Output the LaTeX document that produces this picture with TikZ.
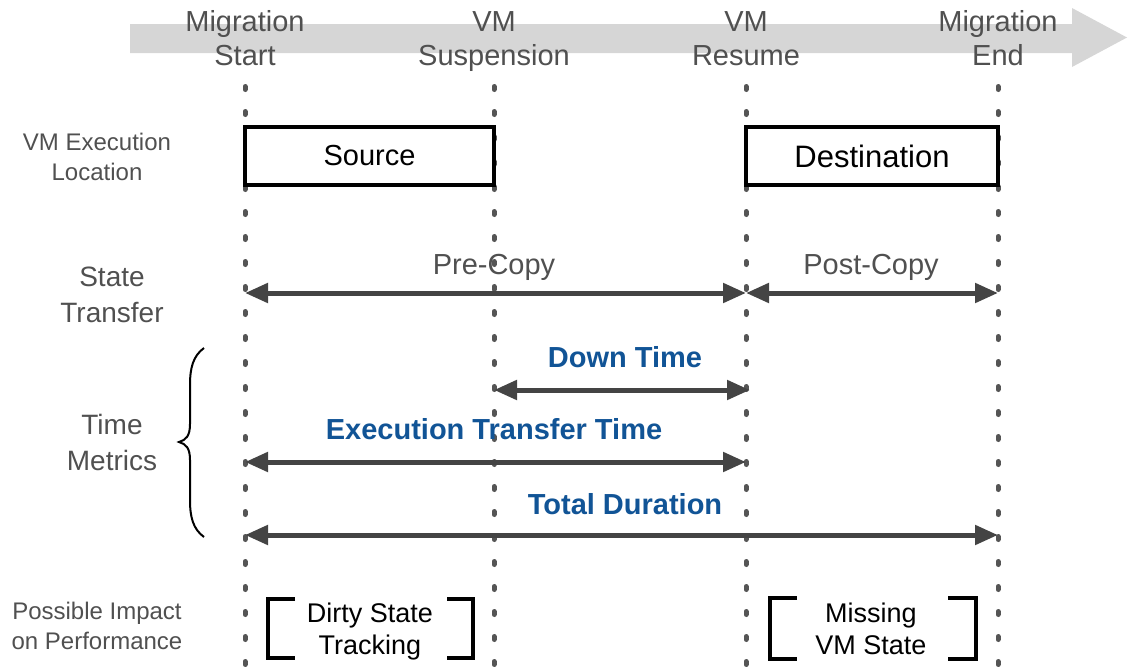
\documentclass[tikz,border=0pt]{standalone}
\usepackage{fontspec}
\setmainfont{Liberation Sans}
\usetikzlibrary{arrows.meta}
\definecolor{txtgray}{HTML}{505050}
\definecolor{arrgray}{HTML}{444444}
\definecolor{dotgray}{HTML}{555555}
\definecolor{bandgray}{HTML}{D6D6D6}
\definecolor{metricblue}{HTML}{115496}
\tikzset{
  toplabel/.style={align=center, text=txtgray, font=\fontsize{29}{34}\selectfont, inner sep=0pt},
  rowlabel/.style={align=center, text=txtgray, font=\fontsize{28}{36}\selectfont, inner sep=0pt},
  smalllabel/.style={align=center, text=txtgray, font=\fontsize{24}{30}\selectfont, inner sep=0pt},
  phaselabel/.style={text=txtgray, font=\fontsize{29}{34}\selectfont, inner sep=0pt},
  metriclabel/.style={text=metricblue, font=\fontsize{29}{34}\selectfont\bfseries, inner sep=0pt},
  locbox/.style={draw=black, line width=3.5pt, fill=white},
  boxtext/.style={text=black, inner sep=0pt},
  impacttext/.style={align=center, text=black, font=\fontsize{27}{32}\selectfont, inner sep=0pt},
  timeline/.style={draw=dotgray, line width=5pt, line cap=round, dash pattern=on 3pt off 22pt},
  span/.style={draw=arrgray, line width=5pt, {Triangle[length=23pt,width=19pt]}-{Triangle[length=23pt,width=19pt]}},
  bracket/.style={draw=black, line width=4pt},
}
\begin{document}
\begin{tikzpicture}[x=1pt,y=-1pt]
\useasboundingbox (0,0) rectangle (1128,667);
% big gray timeline arrow
\fill[bandgray] (130,24) -- (1072,24) -- (1072,8) -- (1127,37.5) -- (1072,67) -- (1072,53) -- (130,53) -- cycle;
% event labels
\node[toplabel] (ms) at (245,41.5) {\strut Migration\\\strut Start};
\node[toplabel] (vs) at (494,41.5) {\strut VM\\\strut Suspension};
\node[toplabel] (vr) at (746,41.5) {\strut VM\\\strut Resume};
\node[toplabel] (me) at (998,41.5) {\strut Migration\\\strut End};
% timeline coordinates
\coordinate (t1) at (245,86.5); \coordinate (b1) at (245,667);
\coordinate (t2) at (494,86.5); \coordinate (b2) at (494,667);
\coordinate (t3) at (746,86.5); \coordinate (b3) at (746,667);
\coordinate (t4) at (998,86.5); \coordinate (b4) at (998,667);
\draw[timeline] (t1) -- (b1);
\draw[timeline] (t2) -- (b2);
\draw[timeline] (t3) -- (b3);
\draw[timeline] (t4) -- (b4);
% row labels
\node[smalllabel] (loc) at (97,157) {VM Execution\\Location};
\node[rowlabel] (st) at (112,295) {State\\Transfer};
\node[rowlabel] (tm) at (112,442) {Time\\Metrics};
\node[smalllabel] (pi) at (97,626) {Possible Impact\\on Performance};
% location boxes
\draw[locbox] (245,127) rectangle (494,185);
\node[boxtext, font=\fontsize{29}{34}\selectfont] (src) at (369.5,156) {Source};
\draw[locbox] (746,127) rectangle (998,185);
\node[boxtext, font=\fontsize{31}{36}\selectfont] (dst) at (872,156) {Destination};
% state transfer
\coordinate (pc1) at (245,293); \coordinate (pc2) at (746,293); \coordinate (pc3) at (998,293);
\draw[span] (pc1) -- (pc2);
\draw[span] (pc2) -- (pc3);
\node[phaselabel] (pre) at (494,267) {Pre-Copy};
\node[phaselabel] (post) at (871,267) {Post-Copy};
% brace
\draw[black, line width=2pt] (204,348) .. controls (193,356) and (190,368) .. (190,385) -- (190,424)
  .. controls (190,436) and (186,440) .. (179,442)
  .. controls (186,444) and (190,448) .. (190,460) -- (190,500)
  .. controls (190,517) and (193,529) .. (204,537);
% time metrics
\coordinate (dt1) at (494,390); \coordinate (dt2) at (750,390);
\draw[span] (dt1) -- (dt2);
\node[metriclabel] (dtl) at (625,357) {Down Time};
\coordinate (et1) at (245,462); \coordinate (et2) at (746,462);
\draw[span] (et1) -- (et2);
\node[metriclabel] (etl) at (494,429) {Execution Transfer Time};
\coordinate (td1) at (245,535); \coordinate (td2) at (998,535);
\draw[span] (td1) -- (td2);
\node[metriclabel] (tdl) at (625,504) {Total Duration};
% impacts
\draw[bracket] (295,599) -- (268,599) -- (268,658) -- (295,658);
\draw[bracket] (447,599) -- (473,599) -- (473,658) -- (447,658);
\node[impacttext] (dst2) at (370,632.5) {\strut Dirty State\\\strut Tracking};
\draw[bracket] (797,598) -- (770,598) -- (770,659) -- (797,659);
\draw[bracket] (948,598) -- (976,598) -- (976,659) -- (948,659);
\node[impacttext] (mvs) at (871,632.5) {\strut Missing\\\strut VM State};
\end{tikzpicture}
\end{document}
